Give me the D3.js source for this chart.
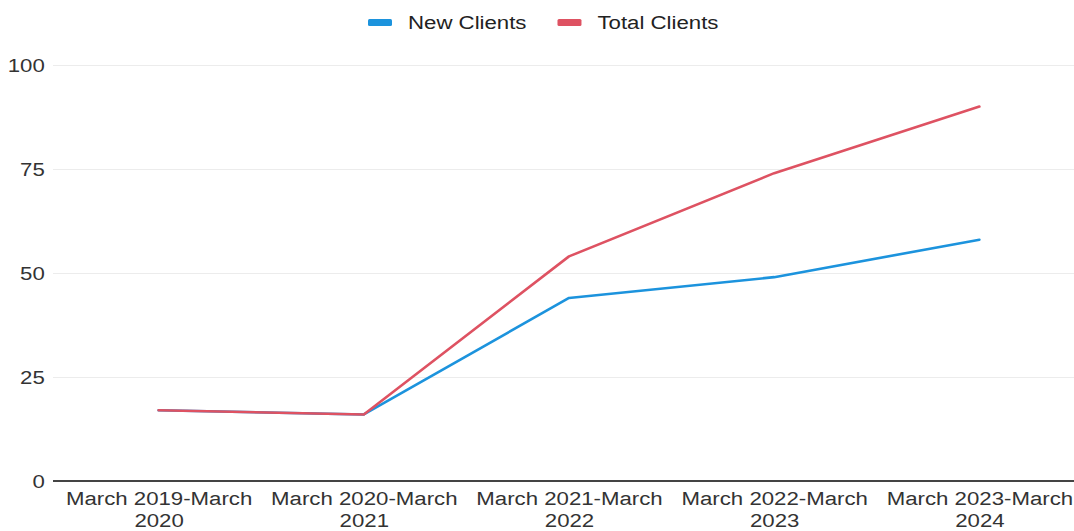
<!DOCTYPE html>
<html>
<head>
<meta charset="utf-8">
<script src="https://cdn.jsdelivr.net/npm/d3@7"></script>
<style>
  html, body { margin: 0; padding: 0; background: #fff; }
  svg { display: block; font-family: "Liberation Sans", Arial, Helvetica, sans-serif; }
</style>
</head>
<body>
<svg id="chart" width="1074" height="531"></svg>
<script>
// Fiscal periods (March to March) and client counts
const periods = [
  ["March 2019-March", "2020"],
  ["March 2020-March", "2021"],
  ["March 2021-March", "2022"],
  ["March 2022-March", "2023"],
  ["March 2023-March", "2024"]
];
const newClients = [17, 16, 44, 49, 58];
const totalClients = [17, 16, 54, 74, 90];
const yTicks = [0, 25, 50, 75, 100];
const seriesNames = ["New Clients", "Total Clients"];

const W = 1074, H = 531;
const colors = { "New Clients": "#1c93dd", "Total Clients": "#de5262" };
const textStretch = "scale(1.17,1)";

const svg = d3.select("#chart");
const plotLeft = 53, plotRight = 1074;

const x = d3.scalePoint()
  .domain(periods.map(p => p.join(" ")))
  .range([56, 1082])
  .padding(0.5);

const y = d3.scaleLinear().domain([0, 100]).range([481, 65]);

// Y axis with horizontal gridlines
const yAxis = svg.append("g")
  .attr("transform", `translate(${plotLeft},0)`)
  .call(d3.axisLeft(y).tickValues(yTicks).tickSize(-(plotRight - plotLeft)).tickPadding(7));
yAxis.select(".domain").remove();
yAxis.selectAll(".tick line").attr("stroke", "#ececec").attr("stroke-width", 1.2);
yAxis.selectAll(".tick text")
  .attr("fill", "#333")
  .style("font-size", "19px")
  .attr("transform", textStretch);

// Baseline
svg.append("line")
  .attr("x1", plotLeft).attr("x2", plotRight)
  .attr("y1", y(0)).attr("y2", y(0))
  .attr("stroke", "#444").attr("stroke-width", 2);

// X axis labels (two lines each)
const xAxis = svg.append("g")
  .attr("transform", `translate(0,${y(0)})`)
  .call(d3.axisBottom(x).tickSize(0).tickFormat(() => ""));
xAxis.select(".domain").remove();
xAxis.selectAll(".tick").each(function(d, i) {
  const t = d3.select(this).append("text")
    .attr("text-anchor", "middle")
    .attr("fill", "#333")
    .style("font-size", "19px")
    .attr("transform", textStretch);
  periods[i].forEach((line, j) => {
    t.append("tspan").attr("x", 0).attr("y", 24 + j * 22).text(line);
  });
});

// Lines
const line = d3.line()
  .x((d, i) => x(periods[i].join(" ")))
  .y(d => y(d));

[["New Clients", newClients], ["Total Clients", totalClients]].forEach(([name, vals]) => {
  svg.append("path")
    .datum(vals)
    .attr("fill", "none")
    .attr("stroke", colors[name])
    .attr("stroke-width", 2.6)
    .attr("stroke-linejoin", "round")
    .attr("stroke-linecap", "round")
    .attr("d", line);
});

// Legend
const legend = svg.append("g");
let lx = 368;
seriesNames.forEach(name => {
  legend.append("rect")
    .attr("x", lx).attr("y", 19)
    .attr("width", 24).attr("height", 7).attr("rx", 1.5)
    .attr("fill", colors[name]);
  const tx = lx + 40;
  const t = legend.append("text")
    .attr("transform", `translate(${tx},29) ${textStretch}`)
    .attr("fill", "#222")
    .style("font-size", "19px")
    .text(name);
  const w = t.node().getComputedTextLength() * 1.17;
  lx = tx + w + 31;
});
</script>
</body>
</html>
